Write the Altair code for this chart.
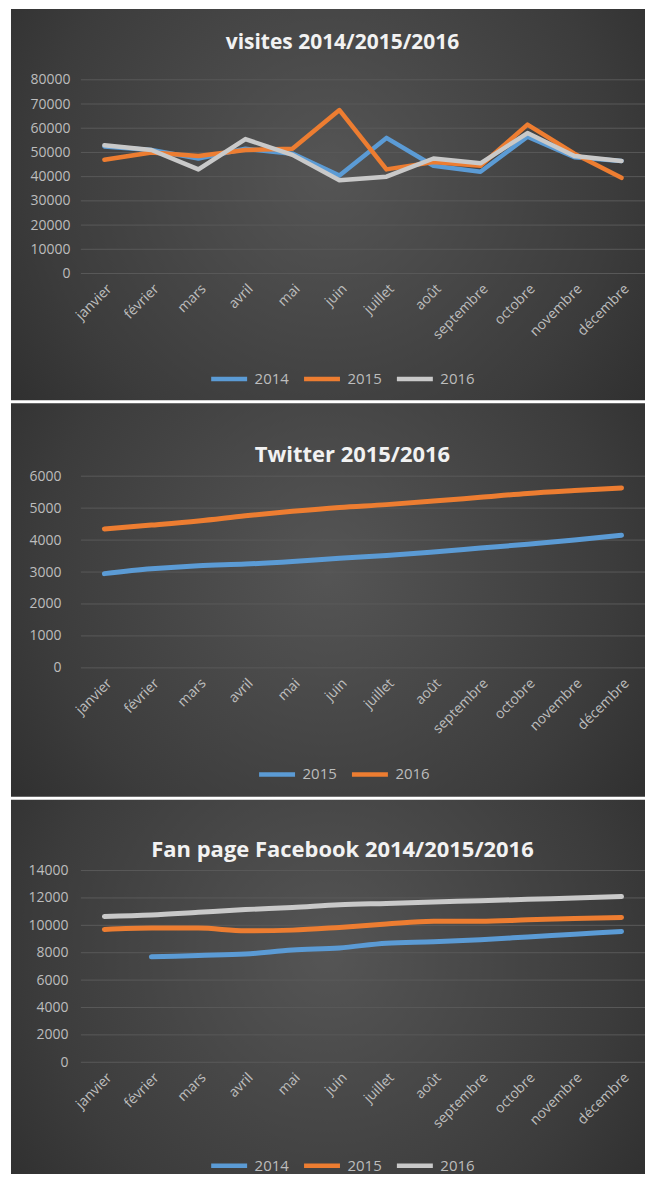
import altair as alt
import pandas as pd

months = ["janvier", "février", "mars", "avril", "mai", "juin", "juillet",
          "août", "septembre", "octobre", "novembre", "décembre"]

visites_names = ["2014", "2015", "2016"]
visites_2014 = [52500, 51000, 47500, 51500, 49500, 40500, 56000, 44500, 42000, 56500, 48000, 46500]
visites_2015 = [47000, 50000, 48500, 51000, 51500, 67500, 43000, 46000, 44500, 61500, 49500, 39500]
visites_2016 = [53000, 51000, 43000, 55500, 49000, 38500, 40000, 47500, 45500, 58000, 48500, 46500]
visites_ticks = [0, 10000, 20000, 30000, 40000, 50000, 60000, 70000, 80000]

twitter_names = ["2015", "2016"]
twitter_2015 = [2950, 3100, 3200, 3250, 3330, 3430, 3520, 3630, 3750, 3870, 4000, 4150]
twitter_2016 = [4350, 4470, 4600, 4760, 4900, 5020, 5110, 5220, 5340, 5460, 5550, 5630]
twitter_ticks = [0, 1000, 2000, 3000, 4000, 5000, 6000]

facebook_names = ["2014", "2015", "2016"]
facebook_2014 = [None, 7700, 7800, 7900, 8200, 8350, 8700, 8800, 8950, 9150, 9350, 9550]
facebook_2015 = [9700, 9800, 9800, 9600, 9650, 9850, 10100, 10300, 10300, 10400, 10500, 10580]
facebook_2016 = [10650, 10750, 10950, 11150, 11300, 11500, 11600, 11700, 11800, 11900, 12000, 12100]
facebook_ticks = [0, 2000, 4000, 6000, 8000, 10000, 12000, 14000]

BLUE = "#5b9bd5"
ORANGE = "#ed7d31"
GRAY = "#c9c9c9"
LABEL = "#bdbdbd"
GRID = "#595959"
FONT = "Open Sans"

PLOT_W = 565


def long_df(names, series):
    rows = []
    for name, vals in zip(names, series):
        for i, (m, v) in enumerate(zip(months, vals)):
            if v is not None:
                rows.append({"mois": m, "idx": i, "serie": name, "valeur": v})
    return pd.DataFrame(rows)


bg_fill = alt.Gradient(
    gradient="radial",
    stops=[alt.GradientStop(color="#555555", offset=0),
           alt.GradientStop(color="#3c3c3c", offset=0.6),
           alt.GradientStop(color="#262626", offset=1)],
    x1=0.5, y1=0.45, r1=0, x2=0.5, y2=0.45, r2=0.75,
)


def panel(df, names, colors, ticks, title, height, rect_y, title_xy,
          title_size, legend_xy, smooth, sw, ypad):
    ymax = ticks[-1]
    yscale = alt.Scale(domain=[0, ymax], nice=False, zero=True)
    yaxis = alt.Axis(title=None, values=ticks, grid=False, zindex=2,
                     labelPadding=ypad, labelFontSize=14, format="d",
                     labelColor=LABEL)
    bg = alt.Chart(pd.DataFrame({"k": [0]})).mark_rect(
        fill=bg_fill, strokeWidth=0
    ).encode(
        x=alt.value(-70), x2=alt.value(PLOT_W),
        y=alt.value(rect_y[0]), y2=alt.value(rect_y[1]),
    )
    grid = alt.Chart(pd.DataFrame({"valeur": ticks})).mark_rule(
        color=GRID, strokeWidth=1
    ).encode(y=alt.Y("valeur:Q", scale=yscale, axis=yaxis))
    lines = alt.Chart(df).mark_line(
        strokeWidth=sw, strokeCap="round", strokeJoin="round",
        interpolate="monotone" if smooth else "linear",
    ).encode(
        x=alt.X("mois:N", sort=months,
                scale=alt.Scale(type="point", padding=0.5),
                axis=alt.Axis(title=None, labelAngle=-45, labelPadding=8,
                              labelFontSize=14, zindex=2, labelColor=LABEL)),
        y=alt.Y("valeur:Q", scale=yscale, axis=yaxis),
        color=alt.Color("serie:N",
                        scale=alt.Scale(domain=names, range=colors),
                        legend=alt.Legend(
                            title=None, orient="none",
                            legendX=legend_xy[0], legendY=legend_xy[1],
                            direction="horizontal",
                            symbolType="M-2,0L2,0", symbolSize=324,
                            symbolStrokeWidth=4.5,
                            labelFont=FONT, labelFontSize=15,
                            labelColor=LABEL, columnPadding=5,
                            labelOffset=14)),
        order=alt.Order("idx:Q"),
    )
    ttl = alt.Chart(pd.DataFrame({"t": [title]})).mark_text(
        font=FONT, fontWeight="bold", fontSize=title_size, color="#f2f2f2",
        align="center", baseline="middle",
    ).encode(text="t:N", x=alt.value(title_xy[0]), y=alt.value(title_xy[1]))
    return alt.layer(bg, grid, lines, ttl).properties(width=PLOT_W, height=height)


p1 = panel(long_df(visites_names, [visites_2014, visites_2015, visites_2016]),
           visites_names, [BLUE, ORANGE, GRAY], visites_ticks,
           "visites 2014/2015/2016", 194, (-71, 321), (262, -37), 21,
           (137, 288), False, 4.5, 11)

p2 = panel(long_df(twitter_names, [twitter_2015, twitter_2016]),
           twitter_names, [BLUE, ORANGE], twitter_ticks,
           "Twitter 2015/2016", 192, (-73, 321), (272, -21), 22,
           (185, 287), True, 5, 20)

p3 = panel(long_df(facebook_names, [facebook_2014, facebook_2015, facebook_2016]),
           facebook_names, [BLUE, ORANGE, GRAY], facebook_ticks,
           "Fan page Facebook 2014/2015/2016", 192, (-71, 304), (262, -21), 22,
           (137, 284), True, 5, 13)

chart = alt.vconcat(p1, p2, p3, spacing=3).resolve_scale(
    color="independent", x="independent", y="independent"
).properties(
    background="white",
    padding={"left": 3, "top": 0, "right": 0, "bottom": 0},
).configure_view(stroke=None).configure_axis(
    labelFont=FONT, domain=False, ticks=False,
)

chart.save("out.html", embed_options={"renderer": "svg", "actions": False})
